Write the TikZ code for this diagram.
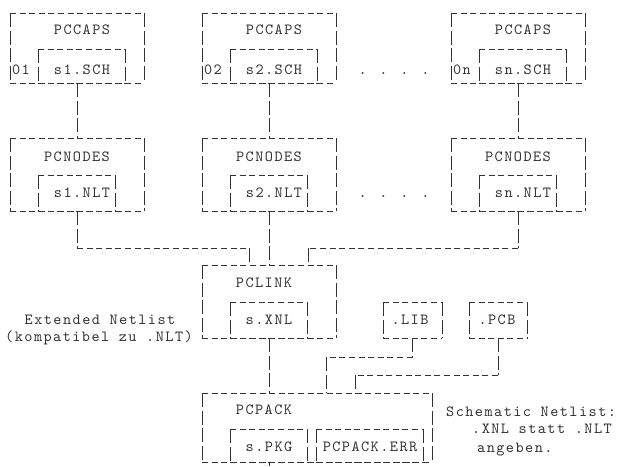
\documentclass[tikz,border=0pt]{standalone}
\usepackage{fontspec}
\newfontfamily\cmono{lmmono10-regular}[Extension=.otf, LetterSpace=9.4]
\definecolor{ink}{RGB}{50,50,50}
\tikzset{
  hd/.style={draw=ink, line width=0.9pt, dash pattern=on 6pt off 3.6pt},
  vd/.style={draw=ink, line width=0.9pt, dash pattern=on 14pt off 3.5pt},
  bx/.style={draw=none, inner sep=0pt, outer sep=0pt, rectangle},
  txt/.style={inner sep=0pt, text=ink, font=\cmono\fontsize{15.5}{17.5}\selectfont, text height=9pt, text depth=0pt},
}
% \dbox{name}{x1}{ytop}{x2}{ybot}
\newcommand{\dbox}[5]{%
  \node[bx, minimum width={((#4)-(#2))*1pt}, minimum height={((#5)-(#3))*1pt}] (#1) at ({((#2)+(#4))/2},{((#3)+(#5))/2}) {};
  \draw[hd] (#1.north west) -- (#1.north east);
  \draw[hd] (#1.south west) -- (#1.south east);
  \draw[vd] (#1.north west) -- (#1.south west);
  \draw[vd] (#1.north east) -- (#1.south east);
}
\begin{document}
\begin{tikzpicture}[x=1pt,y=-1pt]
\useasboundingbox (0,0) rectangle (618,466);
% three columns
\foreach \k/\c/\n in {1/0/1, 2/192/2, 3/441/n}{
  \dbox{caps\k}{10+\c}{13}{144+\c}{83}
  \dbox{sch\k}{38+\c}{49}{125+\c}{83}
  \dbox{nodes\k}{10+\c}{138}{144+\c}{211}
  \dbox{nlt\k}{38+\c}{175}{115+\c}{211}
  \node[txt] (capst\k) at (82+\c,30) {PCCAPS};
  \node[txt] (num\k) at (21+\c,70) {0\n};
  \node[txt] (scht\k) at (82+\c,70) {s\n.SCH};
  \node[txt] (nodest\k) at (77+\c,157) {PCNODES};
  \node[txt] (nltt\k) at (82+\c,193) {s\n.NLT};
  \draw[vd] (caps\k.south) -- (nodes\k.north);
}
\node[txt] (dots1) at (394,70) {. . . .};
\node[txt] (dots2) at (394,193) {. . . .};
% PCLINK
\dbox{link}{202}{265}{336}{338}
\dbox{xnl}{230}{302}{307}{338}
\node[txt] (linkt) at (264,283) {PCLINK};
\node[txt] (xnlt) at (269,320) {s.XNL};
% LIB, PCB
\dbox{lib}{383}{302}{442}{338}
\node[txt] (libt) at (410,320) {.LIB};
\dbox{pcb}{469}{302}{527}{338}
\node[txt] (pcbt) at (497,320) {.PCB};
% PCPACK
\dbox{pack}{202}{393}{432}{462}
\dbox{pkg}{230}{429}{307}{462}
\dbox{err}{316}{429}{423}{462}
\node[txt] (packt) at (264,410) {PCPACK};
\node[txt] (pkgt) at (269,447) {s.PKG};
\node[txt] (errt) at (370,447) {PCPACK.ERR};
% connectors to PCLINK
\coordinate (jL) at (249,248);
\coordinate (jR) at (308,248);
\draw[vd] (nodes1.south) -- (nodes1.south |- jL);
\draw[hd] (nodes1.south |- jL) -- (jL);
\draw[vd] (jL) -- (jL |- link.north);
\draw[vd] (nodes2.south) -- (nodes2.south |- link.north);
\draw[vd] (nodes3.south) -- (nodes3.south |- jR);
\draw[hd] (nodes3.south |- jR) -- (jR);
\draw[vd] (jR) -- (jR |- link.north);
% connectors to PCPACK
\draw[vd] (link.south) -- (link.south |- pack.north);
\coordinate (jLib) at (326,357);
\draw[vd] (lib.south) -- (lib.south |- jLib);
\draw[hd] (lib.south |- jLib) -- (jLib);
\draw[vd] (jLib) -- (jLib |- pack.north);
\coordinate (jPcb) at (355,375);
\draw[vd] (pcb.south) -- (pcb.south |- jPcb);
\draw[hd] (pcb.south |- jPcb) -- (jPcb);
\draw[vd] (jPcb) -- (jPcb |- pack.north);
\coordinate (bot) at (269,466);
\draw[vd] (pack.south -| bot) -- (bot);
% annotations
\node[txt] (ext1) at (100,320) {Extended Netlist};
\node[txt] (ext2) at (99,337) {(kompatibel zu .NLT)};
\node[txt, anchor=west] (sch1n) at (446,412) {Schematic Netlist:};
\node[txt, anchor=west] (sch2n) at (472,429) {.XNL statt .NLT};
\node[txt, anchor=west] (sch3n) at (477,448) {angeben.};
\end{tikzpicture}
\end{document}
